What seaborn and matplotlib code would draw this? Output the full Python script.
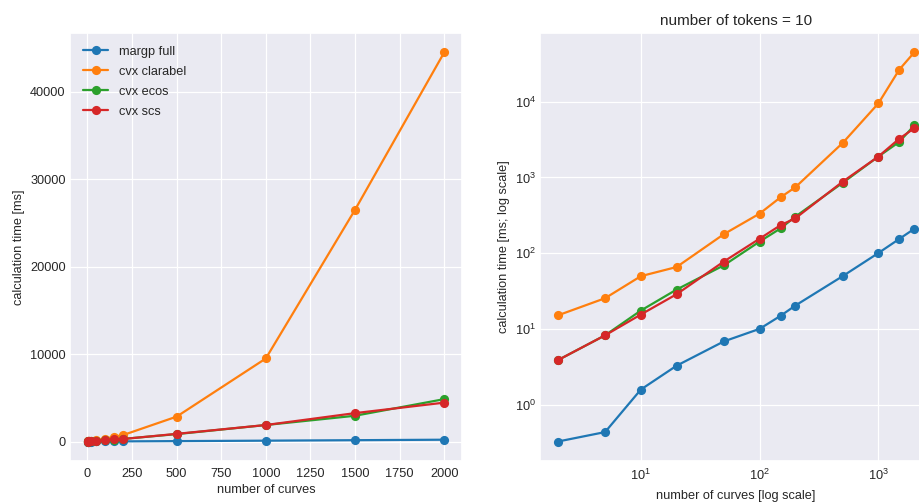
import matplotlib
matplotlib.use("Agg")
import matplotlib.pyplot as plt
import pandas as pd
import seaborn as sns

# Timing benchmark: number of curves vs. calculation time (ms), 10 tokens
n_curves = [2, 5, 10, 20, 50, 100, 150, 200, 500, 1000, 1500, 2000]
margp_full = [0.33, 0.44, 1.6, 3.3, 6.9, 10.1, 15, 20.5, 50, 101, 155, 210]
cvx_clarabel = [15.2, 25.6, 50, 66, 179, 334, 548, 744, 2850, 9500, 26500, 44500]
cvx_ecos = [3.9, 8.3, 17.6, 33.3, 69.5, 143, 213, 305, 850, 1890, 2950, 4850]
cvx_scs = [3.9, 8.3, 15.6, 28.9, 78, 156, 235, 290, 880, 1890, 3250, 4450]

method_names = ["margp full", "cvx clarabel", "cvx ecos", "cvx scs"]
series = [margp_full, cvx_clarabel, cvx_ecos, cvx_scs]

df = pd.concat(
    [pd.DataFrame({"curves": n_curves, "time": vals, "method": name})
     for name, vals in zip(method_names, series)],
    ignore_index=True,
)

sns.set_theme(style="darkgrid")
fs = 9.2
plt.rcParams.update({
    "font.family": ["Liberation Sans", "DejaVu Sans"],
    "font.size": fs,
    "axes.labelsize": fs,
    "xtick.labelsize": fs,
    "ytick.labelsize": fs,
    "legend.fontsize": fs,
    "axes.titlesize": 11,
    "xtick.major.size": 0,
    "ytick.major.size": 0,
    "xtick.minor.size": 0,
    "ytick.minor.size": 0,
    "xtick.major.pad": 4.8,
    "ytick.major.pad": 3.2,
    "axes.labelpad": 3.5,
    "text.color": ".15",
    "axes.labelcolor": ".15",
    "xtick.color": ".15",
    "ytick.color": ".15",
    "grid.linewidth": 0.9,
})

palette = sns.color_palette("tab10", 4)

fig = plt.figure(figsize=(9.19, 5.04), dpi=100)
W, H = 919, 504
ax1 = fig.add_axes([70 / W, 43 / H, 392 / W, 428 / H])
ax2 = fig.add_axes([540 / W, 43 / H, 392 / W, 428 / H])

line_kws = dict(x="curves", y="time", hue="method", hue_order=method_names,
                palette=palette, marker="o", markersize=6.6, markeredgewidth=0,
                linewidth=1.6, estimator=None)

sns.lineplot(data=df, ax=ax1, **line_kws)
ax1.set_xlabel("number of curves", labelpad=3.0)
ax1.set_ylabel("calculation time [ms]")
ax1.set_xticks([0, 250, 500, 750, 1000, 1250, 1500, 1750, 2000])
ax1.legend(loc="upper left", frameon=False, borderaxespad=0.6,
           labelspacing=0.62)

sns.lineplot(data=df, ax=ax2, legend=False, **line_kws)
ax2.set_xscale("log")
ax2.set_yscale("log")
ax2.set_xlabel("number of curves [log scale]", labelpad=5.0)
ax2.set_ylabel("calculation time [ms; log scale]")
ax2.set_title("number of tokens = 10", pad=5.5)

fig.savefig("out.png", dpi=100)
